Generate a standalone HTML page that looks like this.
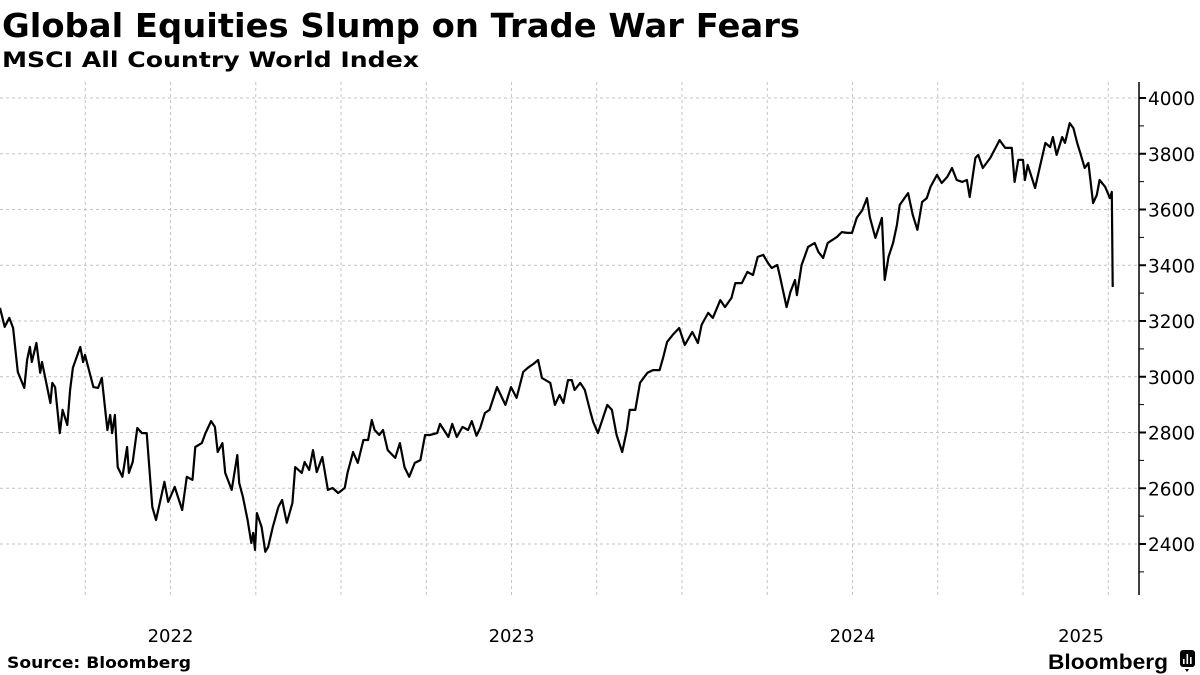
<!DOCTYPE html>
<html><head><meta charset="utf-8">
<style>
html,body{margin:0;padding:0;background:#fff;}
svg{display:block;font-family:"DejaVu Sans","Liberation Sans",sans-serif;}
</style></head>
<body>
<svg id="chart" width="1200" height="675" viewBox="0 0 1200 675" xmlns="http://www.w3.org/2000/svg">
<text x="2" y="37" font-size="33" font-weight="bold" textLength="798" lengthAdjust="spacingAndGlyphs">Global Equities Slump on Trade War Fears</text>
<text x="2" y="67" font-size="21" font-weight="bold" textLength="417" lengthAdjust="spacingAndGlyphs">MSCI All Country World Index</text>
<g id="grid"></g>
<g id="axis"></g>
<g id="xaxis"></g>
<path id="series" fill="none" stroke="#000" stroke-width="2.2" stroke-linejoin="round"></path>
<text x="7" y="668" font-size="16" font-weight="bold" textLength="184" lengthAdjust="spacingAndGlyphs">Source: Bloomberg</text>
<text x="1048" y="669" font-size="21" font-weight="bold" font-family="Liberation Sans, sans-serif" textLength="120" lengthAdjust="spacingAndGlyphs">Bloomberg</text>
<g>
<rect x="1180" y="650" width="15" height="17" rx="3" fill="#000"/>
<path d="M1185 669 l2 3 l2 -3z" fill="#000"/>
<rect x="1183" y="659" width="1.6" height="5" fill="#fff"/>
<rect x="1186.5" y="654" width="1.6" height="10" fill="#fff"/>
<rect x="1190" y="657" width="1.6" height="7" fill="#fff"/>
</g>
</svg>
<script>
const days = [0,5,10,14,19,26,29,32,34,39,43,45,54,56,59,64,67,72,75,78,86,89,91,100,105,109,115,118,120,123,126,131,136,138,142,147,152,157,163,167,171,176,180,187,195,200,206,209,216,220,226,230,233,238,241,248,254,256,260,265,269,271,273,275,280,284,287,292,298,302,307,313,316,323,326,331,335,339,345,351,356,362,369,372,378,383,389,394,398,401,406,410,415,423,428,433,438,444,450,455,460,468,471,480,484,489,495,501,505,510,514,519,524,532,541,547,553,560,565,571,576,580,589,594,599,603,608,612,615,621,626,632,635,640,650,655,660,666,671,674,680,685,693,699,706,710,714,720,727,733,741,747,751,758,763,771,776,783,787,794,800,806,811,817,822,826,832,835,842,846,851,853,858,865,872,876,881,886,891,896,901,907,912,917,923,928,931,937,944,947,951,956,960,963,969,972,977,982,987,992,996,1003,1008,1014,1019,1024,1030,1035,1038,1044,1047,1052,1060,1070,1076,1083,1086,1090,1095,1097,1100,1108,1113,1119,1124,1127,1131,1137,1140,1145,1149,1153,1156,1161,1165,1170,1174,1177,1183,1188,1190,1191];
const values = [3247,3179,3211,3175,3017,2960,3060,3107,3053,3121,3014,3053,2906,2978,2963,2798,2881,2827,2953,3032,3107,3053,3078,2963,2960,2996,2809,2863,2798,2863,2676,2641,2748,2655,2694,2816,2798,2798,2533,2486,2547,2623,2551,2605,2522,2641,2630,2748,2762,2798,2841,2820,2730,2762,2655,2594,2719,2619,2569,2486,2404,2440,2379,2511,2461,2372,2389,2461,2533,2558,2476,2547,2676,2655,2694,2666,2737,2658,2712,2594,2601,2583,2601,2655,2730,2691,2773,2773,2845,2809,2791,2809,2737,2709,2762,2676,2641,2691,2701,2791,2791,2798,2831,2784,2831,2784,2820,2809,2841,2788,2816,2870,2881,2963,2899,2963,2924,3017,3032,3046,3060,2996,2978,2899,2935,2906,2988,2988,2953,2978,2953,2874,2838,2798,2899,2881,2791,2730,2809,2881,2881,2978,3014,3024,3024,3071,3125,3150,3175,3114,3161,3121,3186,3229,3211,3275,3250,3283,3336,3336,3376,3365,3430,3437,3408,3390,3401,3358,3250,3304,3347,3293,3401,3466,3480,3448,3426,3480,3491,3502,3519,3516,3516,3570,3598,3641,3573,3498,3570,3347,3430,3480,3544,3616,3645,3659,3580,3527,3627,3641,3681,3724,3695,3717,3749,3706,3699,3706,3645,3785,3796,3749,3785,3849,3821,3821,3699,3778,3778,3706,3760,3677,3752,3839,3824,3860,3796,3860,3839,3910,3892,3839,3806,3749,3767,3623,3652,3706,3681,3641,3663,3322];
const yTicks = [2400,2600,2800,3000,3200,3400,3600,3800,4000];
const yMinor = [2300,2500,2700,2900,3100,3300,3500,3700,3900];
const yearLabels = ["2022","2023","2024","2025"];
const yearStartDays = [0,365,730,1095];

const NS="http://www.w3.org/2000/svg";
const X0=0, PXD=341/365, AX=1139, TOP=82, BOT=595;
function xs(d){return X0+d*PXD;}
function ys(v){return 98+(4000-v)*0.27875;}
function mk(tag,attrs,parent){const e=document.createElementNS(NS,tag);for(const k in attrs)e.setAttribute(k,attrs[k]);parent.appendChild(e);return e;}
const grid=document.getElementById('grid'), axis=document.getElementById('axis'), xaxis=document.getElementById('xaxis');
for(let q=1;q<14;q++){
  const x=q*341/4;
  const l=mk('line',{x1:x,x2:x,y1:TOP,y2:BOT,stroke:'#c4c4c4','stroke-width':1,'stroke-dasharray':'3,3'},grid);
  
  
}
yTicks.forEach(v=>{
  const y=ys(v);
  const l=mk('line',{x1:0,x2:AX,y1:y,y2:y,stroke:'#c4c4c4','stroke-width':1,'stroke-dasharray':'3,3'},grid);
  
  
  const t=mk('line',{x1:AX,x2:AX+7,y1:y,y2:y,stroke:'#000','stroke-width':2},axis);
  
  
  const tx=mk('text',{x:1148,y:y+7,'font-size':18.5,fill:'#000'},axis);
  tx.textContent=v;
  
  
});
yMinor.forEach(v=>{
  const y=ys(v);
  const t=mk('line',{x1:AX,x2:AX+5,y1:y,y2:y,stroke:'#000','stroke-width':1},axis);
  
  
});
const al=mk('line',{x1:AX,x2:AX,y1:TOP,y2:BOT,stroke:'#000','stroke-width':1.5},axis);


yearLabels.forEach((s,i)=>{
  const start=xs(yearStartDays[i]);
  const end=Math.min(AX,xs(yearStartDays[i]+365));
  const t=mk('text',{x:(start+end)/2,y:642,'font-size':18,'text-anchor':'middle',fill:'#000'},xaxis);
  t.textContent=s;
  
  
});
let d='';
days.forEach((dd,i)=>{d+=(i?'L':'M')+xs(dd).toFixed(1)+' '+ys(values[i]).toFixed(1);});
document.getElementById('series').setAttribute('d',d);
</script>
</body></html>
